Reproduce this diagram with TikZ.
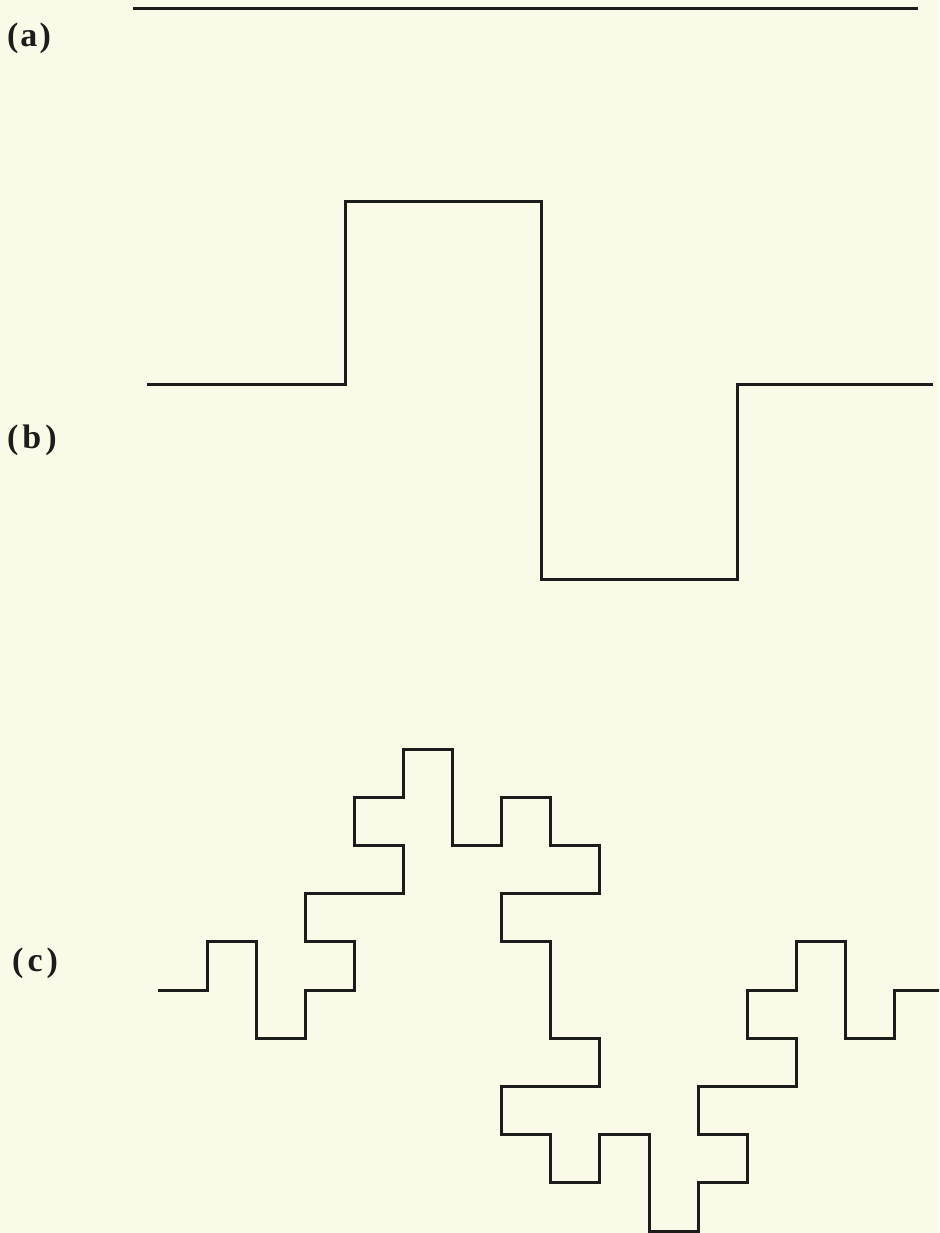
\documentclass[tikz,border=0pt]{standalone}
\usepackage{fontspec}
\setmainfont{Liberation Serif}
\definecolor{paper}{RGB}{251,250,232}
\definecolor{ink}{RGB}{28,28,26}
\begin{document}
\begin{tikzpicture}[x=1pt,y=-1pt,
  curve/.style={draw=ink,line width=3pt,line join=miter,line cap=butt},
  lab/.style={text=ink,font=\fontsize{34}{40}\selectfont\bfseries,inner sep=0pt,anchor=west}]
\fill[paper] (0,0) rectangle (939,1233);
\useasboundingbox (0,0) rectangle (939,1233);
\clip (0,0) rectangle (939,1233);
% labels
\node[lab] (la) at (7,38) {(\hspace{2pt}a\hspace{2pt})};
\node[lab] (lb) at (7,440) {(\hspace{4pt}b\hspace{4pt})};
\node[lab] (lc) at (12,963) {(\hspace{4pt}c\hspace{4pt})};
% (a) initiator
\draw[curve] (133,9) -- (918,9);
% (b) generator
\draw[curve] (147,384) -- (345,384) -- (345,202) -- (541,202) -- (541,579)
  -- (737,579) -- (737,384) -- (933,384);
% (c) second iteration
\begin{scope}[shift={(158,990)},xscale=49.1,yscale=48.2]
\draw[curve] (0,0) -- (1,0) -- (1,-1) -- (2,-1) -- (2,1) -- (3,1) -- (3,0) -- (4,0)
  -- (4,-1) -- (3,-1) -- (3,-2) -- (5,-2) -- (5,-3) -- (4,-3) -- (4,-4)
  -- (5,-4) -- (5,-5) -- (6,-5) -- (6,-3) -- (7,-3) -- (7,-4) -- (8,-4)
  -- (8,-3) -- (9,-3) -- (9,-2) -- (7,-2) -- (7,-1) -- (8,-1) -- (8,0)
  -- (8,1) -- (9,1) -- (9,2) -- (7,2) -- (7,3) -- (8,3) -- (8,4)
  -- (9,4) -- (9,3) -- (10,3) -- (10,5) -- (11,5) -- (11,4) -- (12,4)
  -- (12,3) -- (11,3) -- (11,2) -- (13,2) -- (13,1) -- (12,1) -- (12,0)
  -- (13,0) -- (13,-1) -- (14,-1) -- (14,1) -- (15,1) -- (15,0) -- (16,0);
\end{scope}
\end{tikzpicture}
\end{document}
